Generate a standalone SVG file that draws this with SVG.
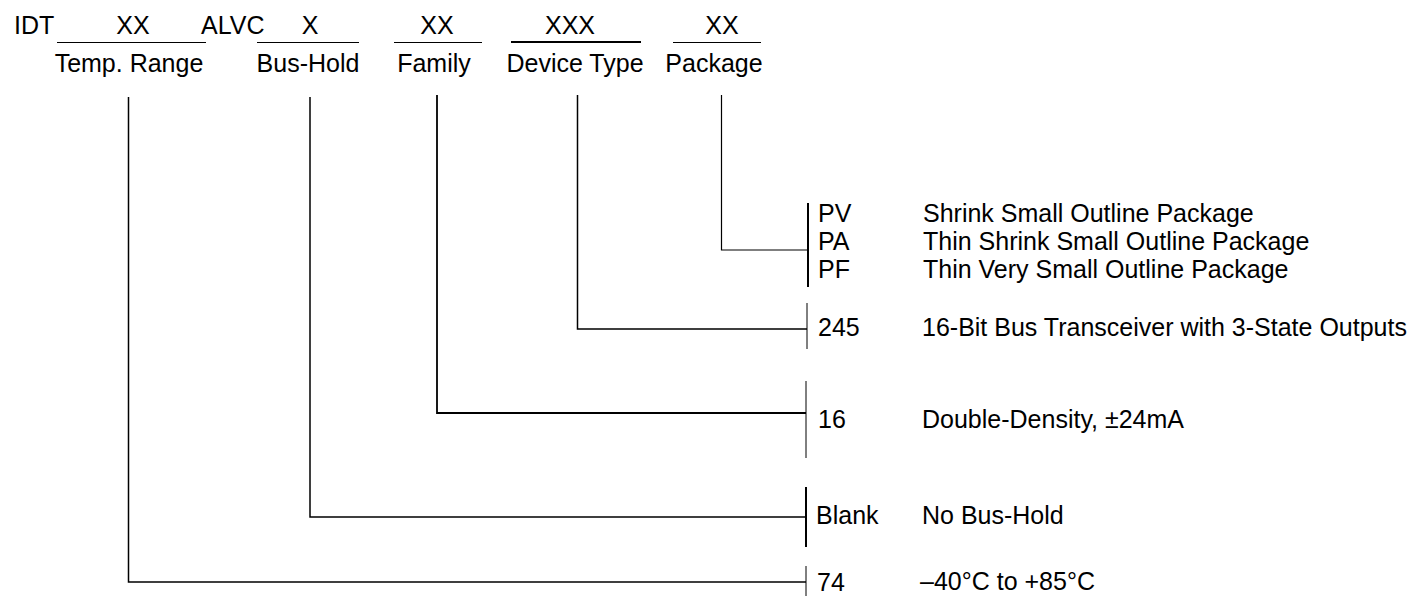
<svg xmlns="http://www.w3.org/2000/svg" width="1416" height="596" viewBox="0 0 1416 596">
<style>
text{font-family:"Liberation Sans",Arial,sans-serif;font-size:25px;fill:#000}
.m{text-anchor:middle}
line{stroke:#000;fill:none}
.t1{stroke-width:1}
.t2{stroke-width:2}
</style>
<rect width="1416" height="596" fill="#fff"/>
<g id="header">
<g id="idt"><text x="14" y="34">IDT</text></g>
<g id="temp-range"><text class="m" x="133" y="34">XX</text><line class="t1" x1="57" y1="42.5" x2="206" y2="42.5"/><text class="m" x="129" y="72">Temp. Range</text></g>
<g id="alvc"><text x="201" y="34">ALVC</text></g>
<g id="bus-hold"><text class="m" x="310" y="34">X</text><line class="t1" x1="257" y1="42.5" x2="359" y2="42.5"/><text class="m" x="308" y="72">Bus-Hold</text></g>
<g id="family"><text class="m" x="437" y="34">XX</text><line class="t1" x1="394" y1="42.5" x2="482" y2="42.5"/><text class="m" x="434" y="72">Family</text></g>
<g id="device-type"><text class="m" x="570" y="34">XXX</text><line class="t2" x1="511" y1="42" x2="641" y2="42"/><text class="m" x="575" y="72">Device Type</text></g>
<g id="package"><text class="m" x="722" y="34">XX</text><line class="t1" x1="673" y1="42.5" x2="761" y2="42.5"/><text class="m" x="714" y="72">Package</text></g>
</g>
<g id="connectors">
<polyline points="128.5,97 128.5,582 806,582" fill="none" stroke="#000" stroke-width="1.5"/>
<polyline points="310,97 310,517 806,517" fill="none" stroke="#000" stroke-width="1.5"/>
<polyline points="437,95 437,413 806,413" fill="none" stroke="#000" stroke-width="1.8"/>
<polyline points="577.5,95 577.5,329 807,329" fill="none" stroke="#000" stroke-width="1.5"/>
<polyline points="721.5,95 721.5,250 808,250" fill="none" stroke="#000" stroke-width="1.2"/>
</g>
<g id="opt-package">
<line class="t2" x1="808" y1="203" x2="808" y2="287"/>
<text x="818" y="222">PV</text><text x="923" y="222">Shrink Small Outline Package</text>
<text x="818" y="250">PA</text><text x="923" y="250">Thin Shrink Small Outline Package</text>
<text x="818" y="278">PF</text><text x="923" y="278">Thin Very Small Outline Package</text>
</g>
<g id="opt-245">
<line class="t1" x1="807" y1="303" x2="807" y2="349"/>
<text x="818" y="336">245</text><text x="922" y="336">16-Bit Bus Transceiver with 3-State Outputs</text>
</g>
<g id="opt-16">
<line class="t1" x1="806" y1="381" x2="806" y2="458"/>
<text x="818" y="428">16</text><text x="922" y="428">Double-Density, ±24mA</text>
</g>
<g id="opt-blank">
<line class="t2" x1="806" y1="487" x2="806" y2="547"/>
<text x="816" y="524">Blank</text><text x="922" y="524">No Bus-Hold</text>
</g>
<g id="opt-74">
<line class="t1" x1="806" y1="566" x2="806" y2="596"/>
<text x="817" y="591">74</text><text x="920" y="590">–40°C to +85°C</text>
</g>
</svg>
